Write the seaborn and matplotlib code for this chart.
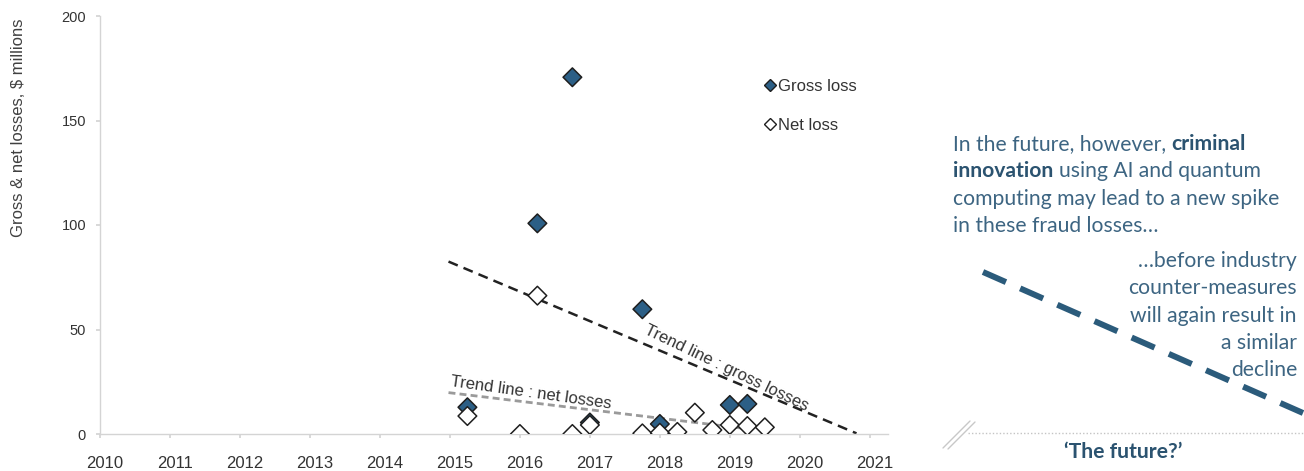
import pandas as pd
import matplotlib.pyplot as plt
import matplotlib.transforms as mtransforms
import seaborn as sns
from matplotlib.lines import Line2D

sns.set_theme(style="white")
plt.rcParams["font.family"] = ["Liberation Sans", "DejaVu Sans"]

# --- data ---
gross_years = [2015.25, 2016.25, 2016.75, 2017.0, 2017.75, 2018.0, 2019.0, 2019.25]
gross_loss = [12.8, 100.8, 170.7, 5.5, 59.7, 4.8, 13.9, 14.4]

net_years = [2015.25, 2016.0, 2016.25, 2016.75, 2017.0, 2017.75, 2018.0,
             2018.25, 2018.5, 2018.75, 2019.0, 2019.25, 2019.5]
net_loss = [8.6, 0.0, 66.2, 0.0, 4.3, 0.3, 0.6, 1.0, 10.2, 1.9, 4.3, 3.8, 3.2]

trend_gross_years = [2014.98, 2020.81]
trend_gross_vals = [82.5, 0.3]
trend_net_years = [2014.98, 2019.2]
trend_net_vals = [19.8, 2.7]

year_ticks = list(range(2010, 2022))
value_ticks = [0, 50, 100, 150, 200]

# the sketched "future" line on the right (pixel space of the figure)
future_x = [983, 1303]
future_y = [272, 413]

GROSS_COL = "#2c5f86"
TEXT_BLUE = "#3d6582"
BOLD_BLUE = "#2b5370"

df = pd.concat([
    pd.DataFrame({"year": gross_years, "loss": gross_loss, "series": "Gross loss"}),
    pd.DataFrame({"year": net_years, "loss": net_loss, "series": "Net loss"}),
], ignore_index=True)

fig = plt.figure(figsize=(13.04, 4.71), dpi=100)
ax = fig.add_axes([100 / 1304, 37 / 471, 788 / 1304, 418 / 471])

# trend lines
ax.plot(trend_gross_years, trend_gross_vals, color="#222222", lw=1.8,
        dashes=(4, 2.5), zorder=1)
ax.plot(trend_net_years, trend_net_vals, color="#9a9a9a", lw=2,
        dashes=(2.5, 1.5), zorder=1)

sns.scatterplot(data=df, x="year", y="loss", hue="series",
                palette={"Gross loss": GROSS_COL, "Net loss": "white"},
                marker="D", s=90, edgecolor="#1e1e1e", linewidth=1.1,
                legend=False, ax=ax, zorder=3)

ax.set_xlim(2010, 2021.26)
ax.set_ylim(0, 200)
ax.set_xticks(year_ticks)
ax.set_xticklabels([str(y) for y in year_ticks])
ax.set_yticks(value_ticks)
ax.set_xlabel("")
ax.set_ylabel("Gross & net losses, $ millions", fontsize=12, color="#404040")
ax.yaxis.set_label_coords(-0.094, 0.732)

for s in ["top", "right"]:
    ax.spines[s].set_visible(False)
for s in ["left", "bottom"]:
    ax.spines[s].set_color("#d4d4d4")
    ax.spines[s].set_linewidth(1)
ax.tick_params(axis="x", length=3, color="#d4d4d4", pad=13, labelsize=12,
               labelcolor="#333333", bottom=True)
ax.tick_params(axis="y", length=3, color="#d4d4d4", pad=7, labelsize=10.5,
               labelcolor="#333333", left=True)
# year labels sit a little right of their tick marks in the original
shift = mtransforms.ScaledTranslation(5 / 100, 0, fig.dpi_scale_trans)
for lbl in ax.get_xticklabels():
    lbl.set_transform(lbl.get_transform() + shift)

# trend labels
ax.text(2018.95, 31.6, "Trend line : gross losses", rotation=-25.6,
        ha="center", va="center", fontsize=12, color="#333333",
        rotation_mode="anchor")
ax.text(2016.16, 19.6, "Trend line : net losses", rotation=-8,
        ha="center", va="center", fontsize=12, color="#333333",
        rotation_mode="anchor")

# legend
handles = [
    Line2D([], [], marker="D", ls="", markersize=6, markerfacecolor=GROSS_COL,
           markeredgecolor="#1e1e1e", label="Gross loss"),
    Line2D([], [], marker="D", ls="", markersize=6, markerfacecolor="white",
           markeredgecolor="#1e1e1e", label="Net loss"),
]
ax.legend(handles=handles, loc="center left", bbox_to_anchor=(0.825, 0.785),
          frameon=False, fontsize=12, handlelength=0.6, handletextpad=0.15,
          labelspacing=1.45, labelcolor="#333333")

# --- right-hand annotation panel, in figure pixel space ---
ov = fig.add_axes([0, 0, 1, 1], facecolor="none")
ov.set_xlim(0, 1304)
ov.set_ylim(471, 0)
ov.axis("off")

fkw = dict(fontsize=15.2, family=["Lato", "DejaVu Sans"])
sp = 4.0  # space width in points


def run(x, y, parts):
    prev = None
    for txt, bold in parts:
        kw = dict(color=BOLD_BLUE if bold else TEXT_BLUE,
                  fontweight="bold" if bold else "normal", **fkw)
        if prev is None:
            prev = ov.text(x, y, txt, ha="left", va="baseline", **kw)
        else:
            prev = ov.annotate(txt, xy=(1, 0), xycoords=prev,
                               xytext=(sp, 0), textcoords="offset points",
                               ha="left", va="bottom", **kw)


left_lines = [
    [("In the future, however,", False), ("criminal", True)],
    [("innovation", True), ("using AI and quantum", False)],
    [("computing may lead to a new spike", False)],
    [("in these fraud losses\u2026", False)],
]
for i, parts in enumerate(left_lines):
    run(953, 150 + 27.3 * i, parts)

right_lines = ["\u2026before industry", "counter-measures",
               "will again result in", "a similar", "decline"]
for i, line in enumerate(right_lines):
    ov.text(1297, 267 + 27.3 * i, line, ha="right", va="baseline",
            color=TEXT_BLUE, **fkw)

ov.plot(future_x, future_y, color="#2b5b7b", lw=4.3, dashes=(4.2, 2.6),
        solid_capstyle="butt", dash_capstyle="butt")

# axis break marks and dotted baseline
ov.plot([943, 970], [448, 421], color="#c8c8c8", lw=1)
ov.plot([948, 975], [449, 422], color="#c8c8c8", lw=1)
ov.plot([968, 1304], [433, 433], color="#c4c4c4", lw=1, ls=(0, (1, 1.5)))

ov.text(1123, 452, "\u2018The future?\u2019", ha="center", va="center",
        fontweight="bold", color=BOLD_BLUE, **fkw)

fig.savefig("out.png", dpi=100)
